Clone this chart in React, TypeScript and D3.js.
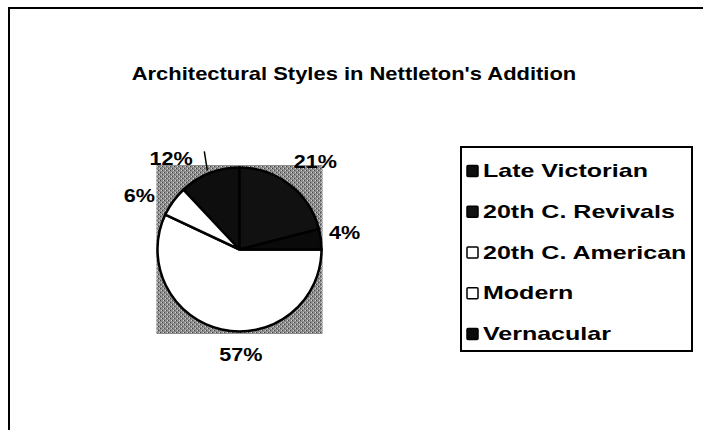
import React from "react";
import * as d3 from "d3";

// legend order
const categories = [
  "Late Victorian",
  "20th C. Revivals",
  "20th C. American",
  "Modern",
  "Vernacular",
];
const percents = [12, 21, 57, 6, 4];
// order the slices go round the pie, clockwise from 12 o'clock
const sliceOrder = [
  "20th C. Revivals",
  "Vernacular",
  "20th C. American",
  "Modern",
  "Late Victorian",
];
const fills = ["#0e0e0e", "#111111", "#ffffff", "#ffffff", "#0a0a0a"];

// small nudges of the data labels away from the slice middles (px)
const labelNudge: Record<string, [number, number]> = {
  "Late Victorian": [-30, 6],
  "20th C. Revivals": [12, -6],
  "20th C. American": [24, 4],
  Modern: [-16, 7],
  Vernacular: [2, -4],
};

const W = 703;
const H = 430;
const cx = 239.5;
const cy = 249.5;
const r = 82;

const font = "'Liberation Sans', Arial, sans-serif";

const App = () => {
  const data = categories.map((name, i) => ({ name, value: percents[i], fill: fills[i] }));

  const pie = d3
    .pie<any>()
    .value((d) => d.value)
    .sort((a, b) => sliceOrder.indexOf(a.name) - sliceOrder.indexOf(b.name));
  const arcs = pie(data);
  const arc = d3.arc<any>().innerRadius(0).outerRadius(r);
  const labelArc = d3.arc<any>().innerRadius(r + 22).outerRadius(r + 22);
  const edgeArc = d3.arc<any>().innerRadius(r).outerRadius(r);

  const legendY = d3.scalePoint<string>().domain(categories).range([171, 334]);

  return (
    <svg
      width={W}
      height={H}
      style={{ position: "absolute", left: 0, top: 0, background: "#fff" }}
    >
      <defs>
        <pattern id="dither" width="4" height="4" patternUnits="userSpaceOnUse">
          <rect width="4" height="4" fill="#8e8e8e" />
          <rect x="0" y="0" width="1" height="1" fill="#444" />
          <rect x="2" y="2" width="1" height="1" fill="#444" />
          <rect x="3" y="0" width="1" height="1" fill="#d0d0d0" />
          <rect x="1" y="2" width="1" height="1" fill="#d0d0d0" />
        </pattern>
      </defs>
      <rect x={9} y={8} width={W + 20} height={H + 20} fill="#fff" stroke="#000" strokeWidth={2} />
      <text
        transform="translate(354,80) scale(1.22,1)"
        textAnchor="middle"
        fontFamily={font}
        fontWeight="bold"
        fontSize={18}
      >
        Architectural Styles in Nettleton's Addition
      </text>

      {/* plot area */}
      <rect x={cx - 83} y={cy - 84.5} width={166} height={169} fill="url(#dither)" />
      <g transform={`translate(${cx},${cy})`}>
        {arcs.map((a) => (
          <path key={a.data.name} d={arc(a) as string} fill={a.data.fill} stroke="#000" strokeWidth={2.5} />
        ))}
        {/* leader line for the Late Victorian label */}
        {arcs
          .filter((a) => a.data.name === "Late Victorian")
          .map((a) => {
            const [ex, ey] = edgeArc.centroid(a);
            return (
              <line key="leader" x1={ex - 2} y1={ey - 3} x2={ex - 5} y2={ey - 22} stroke="#000" strokeWidth={1.5} />
            );
          })}
        {arcs.map((a) => {
          const [x, y] = labelArc.centroid(a);
          const [dx, dy] = labelNudge[a.data.name];
          return (
            <text
              key={a.data.name}
              transform={`translate(${x + dx},${y + dy}) scale(1.2,1)`}
              dy="0.35em"
              textAnchor="middle"
              fontFamily={font}
              fontWeight="bold"
              fontSize={18}
            >
              {a.data.value}%
            </text>
          );
        })}
      </g>

      {/* legend */}
      <rect x={461} y={147} width={231} height={204} fill="#fff" stroke="#000" strokeWidth={2} />
      {data.map((d) => (
        <g key={d.name} transform={`translate(467,${legendY(d.name)})`}>
          <rect x={0} y={-5.5} width={11} height={11} rx={1} fill={d.fill} stroke="#000" strokeWidth={1.5} />
          <text transform="translate(16,0) scale(1.43,1)" dy="0.35em" fontFamily={font} fontWeight="bold" fontSize={17.5}>
            {d.name}
          </text>
        </g>
      ))}
    </svg>
  );
};

export default App;
